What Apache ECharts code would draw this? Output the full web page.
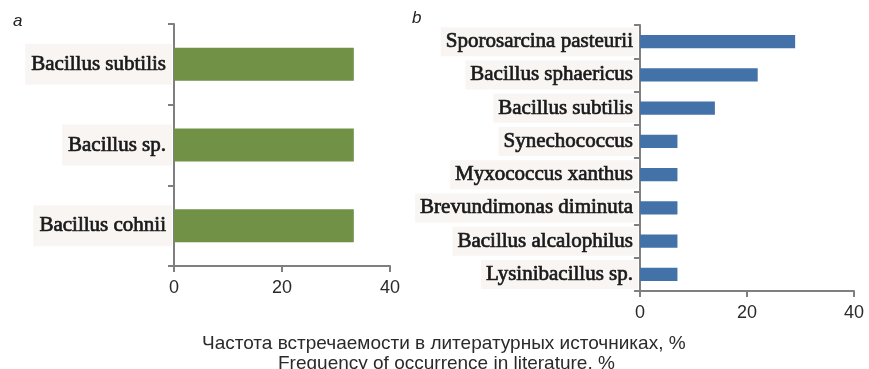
<!DOCTYPE html>
<html>
<head>
<meta charset="utf-8">
<script src="https://cdn.jsdelivr.net/npm/echarts@6/dist/echarts.min.js"></script>
<style>
  html, body { margin: 0; padding: 0; background: #fff; }
  #chart { width: 869px; height: 369px; }
</style>
</head>
<body>
<div id="chart"></div>
<script>
// Panel a: Bacillus species
const catsA = ['Bacillus subtilis', 'Bacillus sp.', 'Bacillus cohnii'];
const valsA = [33.3, 33.3, 33.3];

// Panel b: ureolytic and other microorganisms
const catsB = ['Sporosarcina pasteurii', 'Bacillus sphaericus', 'Bacillus subtilis',
  'Synechococcus', 'Myxococcus xanthus', 'Brevundimonas diminuta',
  'Bacillus alcalophilus', 'Lysinibacillus sp.'];
const valsB = [29, 22, 14, 7, 7, 7, 7, 7];

const xTicks = [0, 20, 40];
const panelLetters = ['a', 'b'];
const titleRu = 'Частота встречаемости в литературных источниках, %';
const titleEn = 'Frequency of occurrence in literature, %';

const axisGray = '#7f7f7f';
const sansFont = '"Liberation Sans", Arial, sans-serif';

function valueAxis(gridIndex) {
  return {
    type: 'value', gridIndex,
    min: xTicks[0], max: xTicks[xTicks.length - 1], interval: xTicks[1] - xTicks[0],
    axisLine: { show: true, lineStyle: { color: axisGray, width: 2 } },
    axisTick: { show: true, length: 6, lineStyle: { color: axisGray, width: 2 } },
    splitLine: { show: false },
    axisLabel: { color: '#2a2a2a', fontFamily: sansFont, fontSize: 18, margin: 13 }
  };
}

function categoryAxis(gridIndex, cats, pad) {
  return {
    type: 'category', gridIndex, data: cats, inverse: true,
    axisLine: { show: true, lineStyle: { color: axisGray, width: 2 } },
    axisTick: { show: true, length: 6, alignWithLabel: false, lineStyle: { color: axisGray, width: 2 } },
    axisLabel: {
      color: '#1a1a1a', fontFamily: '"Liberation Serif", "Times New Roman", serif',
      fontWeight: 'normal', fontSize: 21, margin: 2,
      textBorderColor: '#1a1a1a', textBorderWidth: 0.7,
      backgroundColor: 'rgba(244,236,234,0.55)', padding: pad
    }
  };
}

const chart = echarts.init(document.getElementById('chart'), null, { renderer: 'canvas' });
chart.setOption({
  animation: false,
  backgroundColor: '#ffffff',
  title: [
    { text: panelLetters[0], left: 8, top: 8, textStyle: { fontFamily: sansFont, fontStyle: 'italic', fontWeight: 'normal', fontSize: 17, color: '#222' } },
    { text: panelLetters[1], left: 407, top: 5, textStyle: { fontFamily: sansFont, fontStyle: 'italic', fontWeight: 'normal', fontSize: 17, color: '#222' } },
    { text: titleRu, left: 197, top: 329, textStyle: { fontFamily: sansFont, fontWeight: 'normal', fontSize: 19, color: '#2a2a2a' } },
    { text: titleEn, left: 273, top: 349, textStyle: { fontFamily: sansFont, fontWeight: 'normal', fontSize: 19, color: '#2a2a2a' } }
  ],
  grid: [
    { left: 174, right: 479, top: 24, bottom: 103 },
    { left: 640, right: 15, top: 25, bottom: 78 }
  ],
  xAxis: [valueAxis(0), valueAxis(1)],
  yAxis: [categoryAxis(0, catsA, [10, 6]), categoryAxis(1, catsB, [4, 5])],
  series: [
    { type: 'bar', xAxisIndex: 0, yAxisIndex: 0, data: valsA, barCategoryGap: '59%',
      itemStyle: { color: '#709146' } },
    { type: 'bar', xAxisIndex: 1, yAxisIndex: 1, data: valsB, barCategoryGap: '60%',
      itemStyle: { color: '#4272a7' } }
  ]
});
</script>
</body>
</html>
